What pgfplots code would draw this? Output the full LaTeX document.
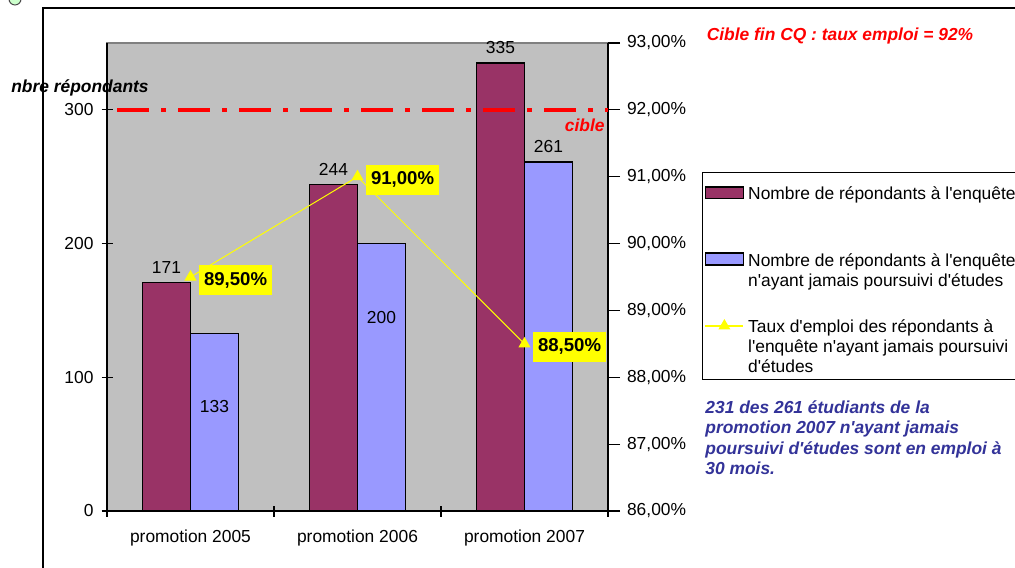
\documentclass[border=0pt]{standalone}
\usepackage{pgfplots}
\pgfplotsset{compat=1.18}
\usepackage{fontspec}
\setmainfont{Liberation Sans}
\definecolor{barA}{HTML}{993366}
\definecolor{barB}{HTML}{9999FF}
\definecolor{bggray}{HTML}{C0C0C0}
\definecolor{bordergray}{HTML}{808080}
\definecolor{noteblue}{HTML}{333399}
\definecolor{ylw}{HTML}{FFFF00}
\definecolor{circgreen}{HTML}{CCFFCC}
\newcommand{\fs}{\fontsize{8.7}{10}\selectfont}
\newcommand{\q}{\textquotesingle}
\pgfplotstableread{
x y lab
0 171 171
1 244 244
2 335 335
}\tabA
\pgfplotstableread{
x y lab
0 133 {}
1 200 {}
2 261 261
}\tabB
\pgfplotstableread{
x y lab
0 89.5 {89,50\%}
1 91.0 {91,00\%}
2 88.5 {88,50\%}
}\tabC
\begin{document}
\begin{tikzpicture}
\clip (0,0) rectangle (507.5pt,283.5pt);
\fill[white] (0,0) rectangle (507.5pt,283.5pt);
% frame and decoration
\begin{scope}[shift={(0pt,283.5pt)}, x=0.5pt, y=-0.5pt]
  \draw[black, line width=0.6pt] (43,580) -- (43,8) -- (1030,8);
  \draw[black!70, line width=0.5pt, fill=circgreen] (15,-1) circle (6);
\end{scope}
\begin{axis}[
  at={(53.5pt,28pt)}, anchor=south west,
  scale only axis, width=250.5pt, height=234pt,
  xmin=-0.5, xmax=2.5, ymin=0, ymax=350,
  ybar=0pt, bar width=24pt,
  axis x line*=bottom, axis y line*=left,
  axis line style={black, line width=0.6pt, -},
  axis background/.style={fill=bggray, draw=bordergray, line width=0.6pt},
  xtick={-0.5,0.5,1.5,2.5}, xticklabels={},
  extra x ticks={0,1,2},
  extra x tick labels={promotion 2005,promotion 2006,promotion 2007},
  extra x tick style={major tick length=0pt, tick label style={yshift=-6pt}},
  ytick={0,100,200,300}, yticklabels={0,100,200,300},
  tick align=center, major tick length=5.5pt,
  tick style={black, line width=0.6pt},
  font=\fs, tick label style={font=\fs},
  yticklabel style={xshift=-0.5pt},
  nodes near coords, point meta=explicit symbolic,
  every node near coord/.append style={font=\fs, text=black, yshift=1pt},
  clip=false,
]
\addplot[fill=barA, draw=black, line width=0.6pt]
  table[x=x, y=y, meta=lab]{\tabA};
\addplot[fill=barB, draw=black, line width=0.6pt]
  table[x=x, y=y, meta=lab]{\tabB};
\node[font=\fs] at (axis cs:0.1437,78) {133};
\node[font=\fs] at (axis cs:1.1437,145) {200};
\end{axis}
\begin{axis}[
  at={(53.5pt,28pt)}, anchor=south west,
  scale only axis, width=250.5pt, height=234pt,
  xmin=-0.5, xmax=2.5, ymin=86, ymax=93,
  axis x line=none, axis y line*=right,
  axis line style={black, line width=0.6pt, -},
  ytick={86,87,88,89,90,91,92,93},
  yticklabels={{86,00\%},{87,00\%},{88,00\%},{89,00\%},{90,00\%},{91,00\%},{92,00\%},{93,00\%}},
  tick align=outside, major tick length=6pt,
  tick style={black, line width=0.6pt},
  font=\fs, tick label style={font=\fs},
  clip=false,
  legend cell align=left,
  legend style={at={(1.1876,0.7244)}, anchor=north west, draw=black, line width=0.6pt,
    font=\fs, inner xsep=1pt, inner ysep=2.2pt, row sep=1.25pt, column sep=1pt,
    nodes={inner sep=1pt, text depth=}, cells={anchor=base west}},
]
\addplot[red, line width=2pt, dash pattern=on 16pt off 6pt on 2.5pt off 6pt, forget plot]
  coordinates {(-0.44,92) (2.5,92)};
\addlegendimage{legend image code/.code={\draw[fill=barA, draw=black, line width=0.8pt] (0pt,0.8pt) rectangle (19pt,6.6pt);}}
\addlegendentry{\parbox[t]{140pt}{\rule{0pt}{10.5pt}Nombre de répondants à l\q enquête\\\strut\\\strut}}
\addlegendimage{legend image code/.code={\draw[fill=barB, draw=black, line width=0.8pt] (0pt,0.8pt) rectangle (19pt,6.6pt);}}
\addlegendentry{\parbox[t]{140pt}{\strut Nombre de répondants à l\q enquête\\\strut n\q ayant jamais poursuivi d\q études\\\strut}}
\addplot[color=ylw, line width=0.5pt, mark=triangle*, mark size=3pt,
  mark options={fill=ylw, draw=ylw},
  nodes near coords, point meta=explicit symbolic,
  every node near coord/.append style={anchor=west, xshift=4pt, yshift=-1.5pt, fill=ylw, text=black,
    font=\fontsize{9.3}{11}\selectfont\bfseries, inner xsep=2.5pt, inner ysep=3.5pt},
  legend image code/.code={\draw[ylw, line width=0.8pt] (0pt,3.5pt) -- (19pt,3.5pt);
    \fill[ylw] (9.5pt,3.5pt) ++(90:3pt) -- ++(-120:5.2pt) -- ++(0:5.2pt) -- cycle;}]
  table[x=x, y=y, meta=lab]{\tabC};
\addlegendentry{\parbox[t]{140pt}{\strut Taux d\q emploi des répondants à\\\strut l\q enquête n\q ayant jamais poursuivi\\d\q études}}
\end{axis}
\begin{scope}[shift={(0pt,283.5pt)}, x=0.5pt, y=-0.5pt]
  \node[font=\fs\bfseries\itshape] at (80,88) {nbre répondants};
  \node[font=\fs\bfseries\itshape, text=red, anchor=east, inner sep=0pt] at (605,125) {cible};
  \node[font=\fs\bfseries\itshape, text=red] at (840,36) {Cible fin CQ : taux emploi = 92\%};
  \node[font=\fontsize{8.7}{10.3}\selectfont\bfseries\itshape, text=noteblue, anchor=north west,
    inner sep=0pt, align=left] at (705,400)
    {231 des 261 étudiants de la\\promotion 2007 n\q ayant jamais\\poursuivi d\q études sont en emploi à\\30 mois.};
\end{scope}
\end{tikzpicture}
\end{document}
